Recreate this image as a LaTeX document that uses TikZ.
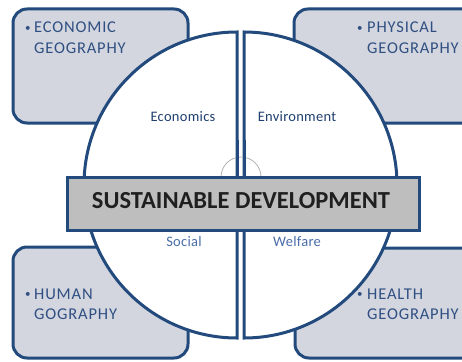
\documentclass[tikz,border=0pt]{standalone}
\usepackage{fontspec}
\setmainfont{Carlito}
\definecolor{edge}{HTML}{234A7C}
\definecolor{boxfill}{HTML}{D3D6DF}
\definecolor{bannerfill}{HTML}{BEBEBE}
\definecolor{boxtext}{HTML}{2F4F82}
\definecolor{darklabel}{HTML}{1F3F6F}
\definecolor{lightlabel}{HTML}{4A6EA9}
\begin{document}
\begin{tikzpicture}[x=1pt,y=-1pt,
  corner/.style={draw=edge,line width=3pt,fill=boxfill,rounded corners=14pt},
  half/.style={draw=edge,line width=3pt,fill=white,line join=miter},
  banner/.style={draw=edge,line width=3pt,fill=bannerfill},
  boxlabel/.style={inner sep=0pt,anchor=base west,text=boxtext,font=\fontsize{16.5}{18}\selectfont\addfontfeatures{LetterSpace=5}},
  bulletmark/.style={inner sep=0pt,anchor=base west,text=boxtext,font=\fontsize{11}{12}\selectfont},
  quad/.style={inner sep=0pt,anchor=base,font=\fontsize{14.5}{16}\selectfont\addfontfeatures{LetterSpace=2}},
  title/.style={inner sep=0pt,anchor=base,text=black!88,font=\fontsize{24.5}{26}\selectfont\bfseries}]
\clip (0,0) rectangle (462,361);
\fill[white] (0,0) rectangle (462,361);
% corner boxes
\draw[corner] (13,9) rectangle (188,123);
\draw[corner] (294,9) rectangle (480,123);
\draw[corner] (13,247) rectangle (188,358);
\draw[corner] (295,248) rectangle (480,358);
% circle halves
\draw[half] (237,32) arc[start angle=90,end angle=270,radius=153pt] -- cycle;
\draw[half] (244,32) arc[start angle=90,end angle=-90,radius=153pt] -- cycle;
% small arc above banner
\draw[black!30,line width=0.8pt] (261,177) arc[start angle=0,end angle=180,radius=20pt];
\draw[edge,line width=3pt] (237,140) -- (237,178);
\draw[edge,line width=3pt] (244,140) -- (244,178);
% banner
\draw[banner] (67,177) rectangle (419,230);
\node[title] (sd) at (241,208.5) {SUSTAINABLE DEVELOPMENT};
% quadrant labels
\node[quad,text=darklabel] (eco) at (183,121) {Economics};
\node[quad,text=darklabel] (env) at (297,121) {Environment};
\node[quad,text=lightlabel] (soc) at (184,246) {Social};
\node[quad,text=lightlabel] (wel) at (297,246) {Welfare};
% box texts
\node[bulletmark] (b1) at (25,31) {•};
\node[boxlabel] (t1a) at (34,33) {ECONOMIC};
\node[boxlabel] (t1b) at (34,53) {GEOGRAPHY};
\node[bulletmark] (b2) at (357,31) {•};
\node[boxlabel] (t2a) at (367,33) {PHYSICAL};
\node[boxlabel] (t2b) at (367,53) {GEOGRAPHY};
\node[bulletmark] (b3) at (25,297) {•};
\node[boxlabel] (t3a) at (34,299) {HUMAN};
\node[boxlabel] (t3b) at (34,319) {GOGRAPHY};
\node[bulletmark] (b4) at (357,297) {•};
\node[boxlabel] (t4a) at (367,299) {HEALTH};
\node[boxlabel] (t4b) at (367,319) {GEOGRAPHY};
\end{tikzpicture}
\end{document}
